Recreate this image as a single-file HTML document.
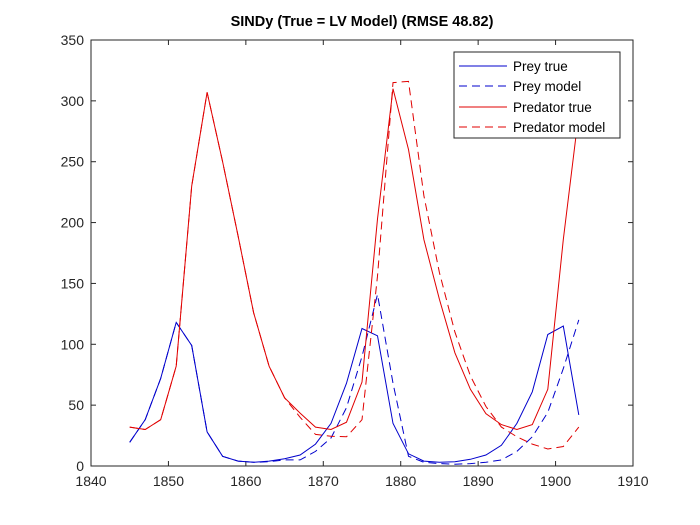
<!DOCTYPE html>
<html><head><meta charset="utf-8"><style>
body{margin:0;background:#fff}
svg{display:block;font-family:"Liberation Sans",Arial,sans-serif}
</style></head><body>
<svg width="700" height="525" viewBox="0 0 700 525">
<rect x="0" y="0" width="700" height="525" fill="#fff"/>
<rect x="91" y="40" width="542" height="426" fill="#fff" stroke="#262626" stroke-width="1"/>
<g id="ticks"></g>
<g id="series"></g>
<text x="362" y="26" text-anchor="middle" font-size="14.5" font-weight="bold" fill="#000">SINDy (True = LV Model) (RMSE 48.82)</text>
<g>
<rect x="454" y="52" width="166" height="86" fill="#fff" stroke="#262626" stroke-width="1"/>
<line x1="459" y1="66" x2="507" y2="66" stroke="#0000cc"/>
<text x="513" y="71" font-size="13.5">Prey true</text>
<line x1="459" y1="86" x2="507" y2="86" stroke="#0000cc" stroke-dasharray="8,5"/>
<text x="513" y="91" font-size="13.5">Prey model</text>
<line x1="459" y1="107" x2="507" y2="107" stroke="#e00000"/>
<text x="513" y="112" font-size="13.5">Predator true</text>
<line x1="459" y1="127" x2="507" y2="127" stroke="#e00000" stroke-dasharray="8,5"/>
<text x="513" y="132" font-size="13.5">Predator model</text>
</g>
</svg>
<script>
const years=[1845,1847,1849,1851,1853,1855,1857,1859,1861,1863,1865,1867,1869,1871,1873,1875,1877,1879,1881,1883,1885,1887,1889,1891,1893,1895,1897,1899,1901,1903];
const preyTrue=[19.5,38,72,118,99,28,8,4,3,4,6,9,18,35,68,113,107,35,10,4,3,3.5,5.5,9,17,35,61,108,115,42];
const preyModel=[19.5,38,72,118,99,28,8,4,3,3.5,5,5,12,23,48,90,141,68,8,3,2,1.5,2,3,5,12,24,44,80,120];
const predTrue=[32,30,38,82,230,307,250,189,126,82,56,43.5,32,30,36,69,203,310,260,186,137,93,63,43,34,30,34,63,186,290];
const predModel=[32,30,38,82,230,307,250,189,126,82,56,40,26,24.5,24,38,156,315,316,222,159,110,74,49,32,24,18,14,16,32];
const xTicks=[1840,1850,1860,1870,1880,1890,1900,1910];
const yTicks=[0,50,100,150,200,250,300,350];
const X0=91,X1=633,Y0=466,Y1=40;
function xs(v){return X0+(v-1840)/70*(X1-X0);}
function ys(v){return Y0-(v/350)*(Y0-Y1);}
const NS="http://www.w3.org/2000/svg";
const tg=document.getElementById('ticks');
xTicks.forEach(t=>{
  const x=xs(t);
  const l=document.createElementNS(NS,'line');
  l.setAttribute('x1',x);l.setAttribute('x2',x);l.setAttribute('y1',Y0);l.setAttribute('y2',Y0-5);
  l.setAttribute('stroke','#262626');
  
  
  tg.appendChild(l);
  const l2=document.createElementNS(NS,'line');
  l2.setAttribute('x1',x);l2.setAttribute('x2',x);l2.setAttribute('y1',Y1);l2.setAttribute('y2',Y1+5);
  l2.setAttribute('stroke','#262626');
  
  
  tg.appendChild(l2);
  const tx=document.createElementNS(NS,'text');
  tx.setAttribute('x',x);tx.setAttribute('y',Y0+20);tx.setAttribute('text-anchor','middle');
  tx.setAttribute('font-size','14');tx.setAttribute('fill','#262626');
  
  
  tx.textContent=t;tg.appendChild(tx);
});
yTicks.forEach(t=>{
  const y=ys(t);
  const l=document.createElementNS(NS,'line');
  l.setAttribute('x1',X0);l.setAttribute('x2',X0+5);l.setAttribute('y1',y);l.setAttribute('y2',y);
  l.setAttribute('stroke','#262626');
  
  
  tg.appendChild(l);
  const l2=document.createElementNS(NS,'line');
  l2.setAttribute('x1',X1);l2.setAttribute('x2',X1-5);l2.setAttribute('y1',y);l2.setAttribute('y2',y);
  l2.setAttribute('stroke','#262626');
  
  
  tg.appendChild(l2);
  const tx=document.createElementNS(NS,'text');
  tx.setAttribute('x',X0-7);tx.setAttribute('y',y+5);tx.setAttribute('text-anchor','end');
  tx.setAttribute('font-size','14');tx.setAttribute('fill','#262626');
  
  
  tx.textContent=t;tg.appendChild(tx);
});
const sg=document.getElementById('series');
function drawLine(vals,color,dash,name){
  const p=document.createElementNS(NS,'polyline');
  p.setAttribute('points',vals.map((v,i)=>xs(years[i]).toFixed(1)+','+ys(v).toFixed(1)).join(' '));
  p.setAttribute('fill','none');p.setAttribute('stroke',color);p.setAttribute('stroke-width','1');
  if(dash)p.setAttribute('stroke-dasharray','8,5');
  
  
  sg.appendChild(p);
}
drawLine(preyTrue,'#0000cc',false,'prey-true-line');
drawLine(preyModel,'#0000cc',true,'prey-model-line');
drawLine(predTrue,'#e00000',false,'predator-true-line');
drawLine(predModel,'#e00000',true,'predator-model-line');
</script>
</body></html>
